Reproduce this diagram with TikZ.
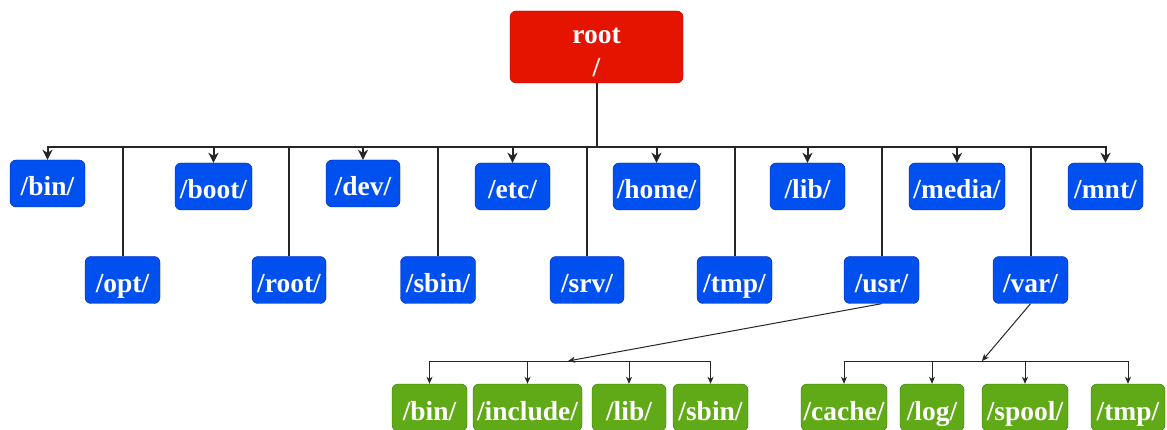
\documentclass[tikz,border=0pt]{standalone}
\usepackage{fontspec}
\setmainfont{Liberation Serif}
\usepackage{xcolor}
\usepackage{tikz}
\usetikzlibrary{arrows.meta,positioning,calc}

\definecolor{rootred}{HTML}{E51400}
\definecolor{rootedge}{HTML}{B20000}
\definecolor{dirblue}{HTML}{0050EF}
\definecolor{blueedge}{HTML}{001DBC}
\definecolor{subgreen}{HTML}{60A917}
\definecolor{greenedge}{HTML}{2D7600}

\begin{document}
\begin{tikzpicture}[
    x=1pt, y=-1pt,
    dir/.style={draw=blueedge, fill=dirblue, rounded corners=6pt, text=white, inner sep=0pt,
        minimum height=47pt, text height=31pt, text depth=6pt, align=center,
        font=\bfseries\fontsize{27.5}{33}\selectfont},
    sub/.style={dir, draw=greenedge, fill=subgreen},
    top/.style={dir, draw=rootedge, fill=rootred, minimum width=173pt, minimum height=72pt,
        text height=64pt, text depth=4pt},
    bus/.style={draw=black!85, line width=2pt},
    tip/.style={bus, -{Stealth[length=10pt,width=10pt,inset=3pt]}},
    thinbus/.style={draw=black!85, line width=1pt},
    thintip/.style={thinbus, -{Stealth[length=7pt,width=6pt,inset=2pt]}}
]
    \useasboundingbox (0,0) rectangle (1167,430);

    % Root
    \node[top] (root) at (596.5,47) {root\\/};
    \coordinate (hub) at (596.5,147);

    % First row
    \node[dir, minimum width=75pt] (bin)   at (47.5,183.5)  {/bin/};
    \node[dir, minimum width=77pt] (boot)  at (213.5,186.5) {/boot/};
    \node[dir, minimum width=74pt] (dev)   at (363,183.5)   {/dev/};
    \node[dir, minimum width=75pt] (etc)   at (512.5,186.5) {/etc/};
    \node[dir, minimum width=87pt] (home)  at (656.5,186.5) {/home/};
    \node[dir, minimum width=75pt] (lib)   at (807.5,186.5) {/lib/};
    \node[dir, minimum width=96pt] (media) at (957,186.5)   {/media/};
    \node[dir, minimum width=75pt] (mnt)   at (1105.5,186.5) {/mnt/};

    % Second row
    \node[dir, minimum width=75pt] (opt)   at (122.5,280) {/opt/};
    \node[dir, minimum width=74pt] (rootd) at (289,280)   {/root/};
    \node[dir, minimum width=75pt] (sbin)  at (438,280)   {/sbin/};
    \node[dir, minimum width=74pt] (srv)   at (587,280)   {/srv/};
    \node[dir, minimum width=75pt] (tmp)   at (734.5,280) {/tmp/};
    \node[dir, minimum width=75pt] (usr)   at (881.5,280) {/usr/};
    \node[dir, minimum width=75pt] (var)   at (1030.5,280) {/var/};

    % Under /usr/
    \node[sub, minimum width=75pt]  (ubin)     at (429.5,407.5) {/bin/};
    \node[sub, minimum width=109pt] (uinclude) at (527.5,407.5) {/include/};
    \node[sub, minimum width=74pt]  (ulib)     at (629,407.5)   {/lib/};
    \node[sub, minimum width=75pt]  (usbin)    at (710.5,407.5) {/sbin/};
    \coordinate (usrhub) at (568,361);

    % Under /var/
    \node[sub, minimum width=86pt] (vcache) at (844,407.5)  {/cache/};
    \node[sub, minimum width=64pt] (vlog)   at (932,407.5)  {/log/};
    \node[sub, minimum width=86pt] (vspool) at (1025,407.5) {/spool/};
    \node[sub, minimum width=74pt] (vtmp)   at (1128,407.5) {/tmp/};
    \coordinate (varhub) at (982,361);

    % Root bus
    \draw[bus] (root.south) -- (hub);
    \foreach \d in {bin,boot,dev,etc,home,lib,media,mnt}
        \draw[tip] (hub) -| (\d.north);
    \foreach \d in {opt,rootd,sbin,srv,tmp,usr,var}
        \draw[bus] (hub) -| (\d.north);

    % /usr/ bus
    \draw[thintip] (usr.south) -- (usrhub);
    \foreach \d in {ubin,uinclude,ulib,usbin}
        \draw[thintip] (usrhub) -| (\d.north);

    % /var/ bus
    \draw[thintip] (var.south) -- (varhub);
    \foreach \d in {vcache,vlog,vspool,vtmp}
        \draw[thintip] (varhub) -| (\d.north);
\end{tikzpicture}
\end{document}
